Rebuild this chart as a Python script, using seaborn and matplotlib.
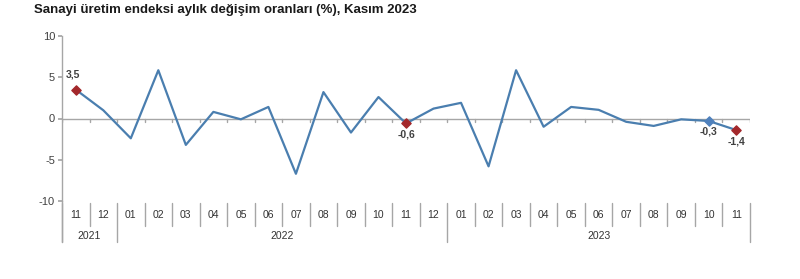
import matplotlib
matplotlib.use("Agg")
import matplotlib.pyplot as plt
import matplotlib.transforms as mtransforms
import seaborn as sns
import pandas as pd
import numpy as np

months = ["11", "12", "01", "02", "03", "04", "05", "06", "07", "08", "09", "10", "11", "12",
          "01", "02", "03", "04", "05", "06", "07", "08", "09", "10", "11"]
years = ["2021", "2022", "2023"]
year_counts = [2, 12, 11]
values = [3.5, 1.0, -2.4, 5.85, -3.2, 0.8, -0.1, 1.4, -6.7, 3.2, -1.7, 2.6, -0.6, 1.2,
          1.9, -5.8, 5.85, -1.0, 1.4, 1.05, -0.4, -0.9, -0.1, -0.3, -1.4]
red_idx = [0, 12, 24]
blue_idx = [23]
label_text = {0: "3,5", 12: "-0,6", 23: "-0,3", 24: "-1,4"}

sns.set_theme(style="white")
plt.rcParams['font.family'] = ['Liberation Sans', 'DejaVu Sans']

df = pd.DataFrame({"pos": np.arange(len(values)), "val": values})

fig = plt.figure(figsize=(8.0, 2.79), dpi=100)
W, H = 800, 279
left, right, top, bottom = 62, 750, 36, 201
ax = fig.add_axes([left / W, 1 - bottom / H, (right - left) / W, (bottom - top) / H])

line_color = "#4A7EAF"
grey = "#A6A6A6"
sns.lineplot(data=df, x="pos", y="val", ax=ax, color=line_color, linewidth=1.6)
ax.scatter(df["pos"].iloc[red_idx], df["val"].iloc[red_idx], marker="D", s=22,
           color="#A3282B", zorder=5)
ax.scatter(df["pos"].iloc[blue_idx], df["val"].iloc[blue_idx], marker="D", s=22,
           color="#4F81BD", zorder=5)

ax.set_xlim(-0.5, len(values) - 0.5)
ax.set_ylim(-10, 10)
ax.set_yticks([-10, -5, 0, 5, 10])
ax.set_yticklabels(["-10", "-5", "0", "5", "10"], fontsize=8, color="#404040")
ax.set_xticks([])
ax.set_xlabel("")
ax.set_ylabel("")
for s in ["top", "right", "bottom"]:
    ax.spines[s].set_visible(False)
ax.spines["left"].set_color(grey)
ax.spines["left"].set_linewidth(1.0)
ax.tick_params(axis="y", left=True, length=3, color=grey, pad=2)

# zero line with small ticks
ax.axhline(0, color=grey, linewidth=1.0, zorder=1)
for k in range(len(values) + 1):
    ax.plot([k - 0.5, k - 0.5], [0, -0.45], color=grey, linewidth=1.0, zorder=1)

# data labels
offsets = {0: (-2, 7, "center", "bottom"), 12: (0, -4, "center", "top"),
           23: (0, -4, "center", "top"), 24: (0, -5, "center", "top")}
for i, t in label_text.items():
    dx, dy, ha, va = offsets[i]
    ax.annotate(t, (df["pos"].iloc[i], df["val"].iloc[i]), xytext=(dx, dy),
                textcoords="offset points", ha=ha, va=va, fontsize=7.5,
                color="#404040", fontweight="bold")

# category axis below
trans = mtransforms.blended_transform_factory(ax.transData, fig.transFigure)
def fy(p):
    return 1 - p / H
for i, m in enumerate(months):
    ax.text(i, fy(215), m, transform=trans, ha="center", va="center", fontsize=7.5,
            color="#333333")
bounds = np.cumsum([0] + year_counts)
year_bounds = set(bounds.tolist())
for k in range(len(values) + 1):
    y_end = 242 if k in year_bounds else 226
    y_start = 203
    ax.plot([k - 0.5, k - 0.5], [fy(y_start), fy(y_end)], transform=trans, color=grey,
            linewidth=1.0, clip_on=False)
ax.plot([-0.5, -0.5], [fy(201), fy(242)], transform=trans, color=grey, linewidth=1.0,
        clip_on=False)
for j, y in enumerate(years):
    c = (bounds[j] + bounds[j + 1] - 1) / 2
    ax.text(c, fy(236), y, transform=trans, ha="center", va="center", fontsize=7.5,
            color="#333333")

fig.text(34 / W, 1 - 10 / H, "Sanayi üretim endeksi aylık değişim oranları (%), Kasım 2023",
         ha="left", va="center", fontsize=9.5, fontweight="bold", color="#1A1A1A")

fig.savefig("out.png", dpi=100)
